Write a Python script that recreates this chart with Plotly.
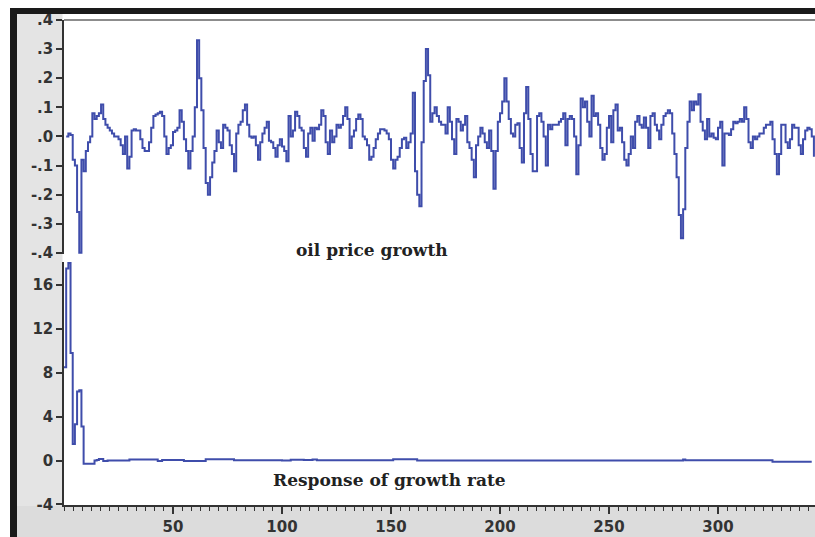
import plotly.graph_objects as go

# ---------------- data ----------------
oil_price_growth = [
    0.0, 0.01, 0.005, -0.08, -0.1, -0.26, -0.4, -0.08, -0.12, -0.05,
    -0.02, 0.0, 0.08, 0.06, 0.07, 0.08, 0.11, 0.06, 0.04, 0.03,
    0.02, 0.01, 0.0, 0.0, -0.01, -0.03, -0.06, 0.0, -0.11, -0.07,
    0.02, 0.025, 0.02, 0.02, -0.01, -0.04, -0.05, -0.05, -0.02, 0.03,
    0.07, 0.075, 0.08, 0.085, 0.07, 0.0, -0.06, -0.04, -0.03, 0.015,
    0.02, 0.03, 0.09, 0.05, -0.01, -0.05, -0.11,
    -0.05, 0.0, 0.1, 0.33, 0.2, 0.09, -0.04, -0.16, -0.2, -0.14,
    -0.09, -0.05, 0.02, -0.02, -0.04, 0.04, 0.03, 0.02, -0.03, -0.06,
    -0.12, 0.01, 0.04, 0.05, 0.09, 0.11, 0.04, 0.0, -0.005, 0.0,
    -0.03, -0.08, -0.02, 0.01, 0.03, 0.05, -0.015, -0.02, -0.04, -0.07,
    -0.03, -0.01, -0.035, -0.05, -0.085, 0.07, 0.0, 0.02, 0.085, 0.07,
    0.03, 0.02, -0.04, -0.07, 0.01, 0.03, -0.015, 0.03,
    0.025, 0.04, 0.09, 0.07, -0.02, -0.06, 0.02, -0.02, 0.0, 0.04,
    0.03, 0.04, 0.07, 0.1, 0.06, -0.04, 0.0, 0.02, 0.06, 0.075,
    0.06, 0.0, -0.01, -0.03, -0.08, -0.07, -0.04, -0.01, 0.01, 0.025,
    0.025, 0.02, 0.01, -0.01, -0.08, -0.11, -0.08, -0.07, -0.04, -0.01,
    -0.005, -0.04, -0.02, 0.01, 0.15, -0.12, -0.2, -0.24, -0.02, 0.19,
    0.3, 0.21, 0.05, 0.08, 0.1, 0.07, 0.05,
    0.04, 0.04, 0.01, 0.1, 0.05, -0.01, -0.06, 0.06, 0.05, 0.02,
    0.04, 0.07, -0.02, -0.04, -0.08, -0.14, -0.03, 0.0, 0.03, 0.01,
    -0.02, -0.04, 0.02, -0.05, -0.18, -0.05, 0.05, 0.08, 0.12, 0.2,
    0.12, 0.06, 0.01, 0.0, 0.04, 0.045, -0.04, -0.09, 0.08, 0.17,
    0.06, -0.06, -0.12, -0.12, 0.07, 0.08, 0.05, 0.0, -0.1, 0.04,
    0.025, 0.04, 0.04, 0.04, 0.05, 0.06, 0.08,
    -0.03, 0.06, 0.07, 0.06, 0.0, -0.13, -0.03, 0.13, 0.1, 0.12,
    0.05, 0.0, 0.14, 0.07, 0.08, 0.04, -0.04, -0.08, -0.06, 0.03,
    0.07, -0.02, 0.09, 0.11, 0.02, 0.03, -0.02, -0.08, -0.1, -0.06,
    0.0, -0.04, 0.05, 0.07, 0.04, 0.03, 0.065, 0.03, -0.04, 0.07,
    0.08, 0.04, 0.02, -0.01, 0.04, 0.07, 0.08, 0.09, 0.08, 0.01,
    -0.06, -0.14, -0.27, -0.35, -0.25, -0.04, 0.05, 0.12,
    0.09, 0.12, 0.11, 0.145, 0.05, 0.02, -0.01, 0.06, 0.0, 0.01,
    -0.005, -0.01, 0.03, 0.05, -0.1, 0.01, 0.01, 0.005, 0.025, 0.05,
    0.045, 0.05, 0.06, 0.05, 0.1, 0.06, -0.02, -0.04, 0.0, -0.01,
    0.0, 0.01, 0.01, 0.03, 0.04, 0.04, 0.05, -0.01, -0.06, -0.13,
    -0.06, 0.04, 0.04, -0.02, -0.04, -0.01, 0.04, 0.03, 0.03, -0.03,
    -0.06, -0.01, 0.02, 0.03, 0.025, 0.0, -0.07,
]

response_growth_rate = [
    8.5, 17.5, 18.0, 9.8, 1.5, 3.3, 6.3, 6.4, 3.1, -0.3,
    -0.3, -0.3, -0.3, -0.3, 0.0, 0.05, 0.15, 0.15, -0.05, -0.05,
    0.0, 0.0, 0.0, 0.0, 0.0, 0.0, 0.0, 0.0, 0.0, 0.0,
    0.1, 0.1, 0.1, 0.1, 0.1, 0.1, 0.1, 0.1, 0.1, 0.1,
    0.1, 0.1, 0.1, -0.05, -0.05, 0.05, 0.05, 0.05, 0.05, 0.05,
    0.05, 0.05, 0.05, 0.05, 0.05, -0.05, -0.05, -0.05, -0.05, -0.05,
    -0.05, -0.05, -0.05, -0.05, -0.05, 0.12, 0.12, 0.12, 0.12, 0.12,
    0.12, 0.12, 0.12, 0.12, 0.12, 0.12, 0.12, 0.12, 0.02, 0.02,
    0.02, 0.02, 0.02, 0.02, 0.02, 0.02, 0.02, 0.02, 0.02, 0.02,
    0.02, 0.02, 0.02, 0.02, 0.02, 0.02, 0.02, 0.02, 0.02, 0.02,
    0.0, 0.0, 0.0, 0.0, 0.08, 0.08, 0.08, 0.08, 0.08, 0.08,
    0.05, 0.05, 0.05, 0.05, 0.1, 0.1, 0.02, 0.02, 0.02, 0.02,
    0.02, 0.02, 0.02, 0.02, 0.02, 0.02, 0.02, 0.02, 0.02, 0.02,
    0.02, 0.02, 0.02, 0.02, 0.02, 0.02, 0.02, 0.02, 0.02, 0.02,
    0.02, 0.02, 0.02, 0.02, 0.02, 0.02, 0.02, 0.02, 0.02, 0.02,
    0.02, 0.12, 0.12, 0.12, 0.12, 0.12, 0.12, 0.12, 0.12, 0.12,
    0.12, 0.12, 0.0, 0.0, 0.0, 0.0, 0.0, 0.0, 0.0, 0.0,
    0.0, 0.0, 0.0, 0.0, 0.0, 0.0, 0.0, 0.0, 0.0, 0.0,
    0.0, 0.0, 0.0, 0.0, 0.0, 0.0, 0.0, 0.0, 0.0, 0.0,
    0.0, 0.0, 0.0, 0.0, 0.0, 0.0, 0.0, 0.0, 0.0, 0.0,
    0.0, 0.0, 0.0, 0.0, 0.0, 0.0, 0.0, 0.0, 0.0, 0.0,
    0.0, 0.0, 0.0, 0.0, 0.0, 0.0, 0.0, 0.0, 0.0, 0.0,
    0.0, 0.0, 0.0, 0.0, 0.0, 0.0, 0.0, 0.0, 0.0, 0.0,
    0.0, 0.0, 0.0, 0.0, 0.0, 0.0, 0.0, 0.0, 0.0, 0.0,
    0.0, 0.0, 0.0, 0.0, 0.0, 0.0, 0.0, 0.0, 0.0, 0.0,
    0.0, 0.0, 0.0, 0.0, 0.0, 0.0, 0.0, 0.0, 0.0, 0.0,
    0.0, 0.0, 0.0, 0.0, 0.0, 0.0, 0.0, 0.0, 0.0, 0.0,
    0.0, 0.0, 0.0, 0.0, 0.0, 0.0, 0.0, 0.0, 0.0, 0.0,
    0.0, 0.0, 0.0, 0.0, 0.1, 0.03, 0.03, 0.03, 0.03, 0.03,
    0.03, 0.03, 0.03, 0.03, 0.03, 0.03, 0.03, 0.03, 0.03, 0.03,
    0.03, 0.03, 0.03, 0.03, 0.03, 0.03, 0.03, 0.03, 0.03, 0.03,
    0.03, 0.03, 0.03, 0.03, 0.03, 0.03, 0.03, 0.03, 0.03, 0.03,
    0.03, 0.03, 0.03, 0.03, 0.03, -0.1, -0.1, -0.1, -0.1, -0.1,
    -0.1, -0.1, -0.1, -0.1, -0.1, -0.1, -0.1, -0.1, -0.1, -0.1,
    -0.1, -0.1, -0.1, -0.1,
]

obs_top = list(range(1, len(oil_price_growth) + 1))
obs_resp = list(range(0, len(response_growth_rate)))

x_tickvals = [50, 100, 150, 200, 250, 300]
top_tickvals = [0.4, 0.3, 0.2, 0.1, 0.0, -0.1, -0.2, -0.3, -0.4]
top_ticktext = [".4", ".3", ".2", ".1", ".0", "-.1", "-.2", "-.3", "-.4"]
bot_tickvals = [16, 12, 8, 4, 0, -4]
bot_ticktext = ["16", "12", "8", "4", "0", "-4"]

top_title = "oil price growth"
bottom_title = "Response of growth rate"

# ---------------- style ----------------
W, H = 815, 537
ML, MR, MT, MB = 64, 0, 20, 32
BLUE = "#3f4dab"
AX = "#333333"
TICKFONT = dict(family="DejaVu Sans", size=15, color="#333333", weight="bold")


def px_x(p):
    return (p - ML) / (W - ML - MR)


def px_y(p):
    return (H - MB - p) / (H - MT - MB)


fig = go.Figure()
fig.add_trace(go.Scatter(
    x=obs_top, y=oil_price_growth, mode="lines",
    line=dict(color=BLUE, width=2, shape="hv"),
    xaxis="x2", yaxis="y2", showlegend=False, hoverinfo="skip"))
fig.add_trace(go.Scatter(
    x=obs_resp, y=response_growth_rate, mode="lines",
    line=dict(color=BLUE, width=2, shape="hv"),
    xaxis="x", yaxis="y", showlegend=False, hoverinfo="skip"))

shapes = [
    # grey label strips
    dict(type="rect", xref="paper", yref="paper", x0=px_x(17), x1=px_x(62.5),
         y0=px_y(537), y1=px_y(14), fillcolor="#e4e4e4", line=dict(width=0), layer="below"),
    dict(type="rect", xref="paper", yref="paper", x0=px_x(17), x1=px_x(815),
         y0=px_y(537), y1=px_y(506), fillcolor="#dcdcdc", line=dict(width=0), layer="below"),
    # black window frame
    dict(type="rect", xref="paper", yref="paper", x0=px_x(10), x1=px_x(17),
         y0=px_y(537), y1=px_y(8), fillcolor="#1a1a1a", line=dict(width=0)),
    dict(type="rect", xref="paper", yref="paper", x0=px_x(10), x1=px_x(815),
         y0=px_y(14), y1=px_y(8), fillcolor="#1a1a1a", line=dict(width=0)),
    # top border of upper panel
    dict(type="line", xref="paper", yref="paper", x0=0, x1=1, y0=1, y1=1,
         line=dict(color="#666666", width=1.5)),
]

fig.update_layout(
    width=W, height=H, autosize=False,
    margin=dict(l=ML, r=MR, t=MT, b=MB, pad=0),
    paper_bgcolor="white", plot_bgcolor="white",
    showlegend=False,
    xaxis=dict(
        domain=[0, 1], anchor="y", range=[0, 344.5],
        tickmode="array", tickvals=x_tickvals,
        ticks="outside", ticklen=7, tickwidth=1.5, tickcolor=AX,
        showline=True, linecolor=AX, linewidth=1.5,
        showgrid=False, zeroline=False, tickfont=TICKFONT,
        minor=dict(dtick=50 / 12, tick0=0, ticks="outside", ticklen=4,
                   tickwidth=1.2, tickcolor=AX, showgrid=False),
    ),
    xaxis2=dict(
        domain=[0, 1], anchor="y2", matches="x", range=[0, 344.5],
        showticklabels=False, ticks="", showline=False,
        showgrid=False, zeroline=False,
    ),
    yaxis=dict(
        domain=[0, px_y(262)], anchor="x", range=[-4.05, 18.1],
        tickmode="array", tickvals=bot_tickvals, ticktext=bot_ticktext,
        ticks="outside", ticklen=6, tickwidth=1.5, tickcolor=AX,
        showline=True, linecolor=AX, linewidth=1.5,
        showgrid=False, zeroline=False, tickfont=TICKFONT,
    ),
    yaxis2=dict(
        domain=[px_y(254), 1], anchor="x2", range=[-0.404, 0.4],
        tickmode="array", tickvals=top_tickvals, ticktext=top_ticktext,
        ticks="outside", ticklen=6, tickwidth=1.5, tickcolor=AX,
        showline=True, linecolor=AX, linewidth=1.5,
        showgrid=False, zeroline=False, tickfont=TICKFONT,
    ),
    shapes=shapes,
    annotations=[
        dict(text=top_title, xref="paper", yref="paper",
             x=px_x(372), y=px_y(250), xanchor="center", yanchor="middle",
             showarrow=False,
             font=dict(family="DejaVu Serif", size=17, color="#222222", weight="bold")),
        dict(text=bottom_title, xref="paper", yref="paper",
             x=px_x(389), y=px_y(480), xanchor="center", yanchor="middle",
             showarrow=False,
             font=dict(family="DejaVu Serif", size=17, color="#222222", weight="bold")),
    ],
)

fig.write_html("out.html")
